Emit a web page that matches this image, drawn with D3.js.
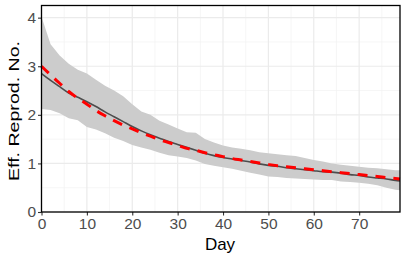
<!DOCTYPE html>
<html>
<head>
<meta charset="utf-8">
<script src="https://cdn.jsdelivr.net/npm/d3@7"></script>
<style>
  body { margin: 0; background: #fff; }
  text { font-family: "Liberation Sans", Arial, sans-serif; }
</style>
</head>
<body>
<div id="canvas"></div>
<script>
// values
const days  = [0, 2, 4, 6, 8, 10, 12, 14, 16, 18, 20, 22, 24, 26, 28, 30, 32, 34, 36, 38,
               40, 42, 44, 46, 48, 50, 52, 54, 56, 58, 60, 62, 64, 66, 68, 70, 72, 74, 76, 78, 79];
const upper = [4.02, 3.45, 3.22, 3.05, 2.93, 2.85, 2.72, 2.60, 2.50, 2.38, 2.22, 2.07, 2.00, 1.88, 1.80, 1.72, 1.64, 1.63, 1.50, 1.43,
               1.37, 1.33, 1.30, 1.27, 1.23, 1.21, 1.19, 1.17, 1.15, 1.11, 1.07, 1.04, 1.00, 0.97, 0.95, 0.93, 0.91, 0.90, 0.88, 0.86, 0.86];
const lower = [2.12, 2.10, 2.03, 1.93, 1.89, 1.75, 1.70, 1.62, 1.53, 1.46, 1.38, 1.33, 1.28, 1.22, 1.17, 1.14, 1.11, 1.06, 0.99, 0.95,
               0.92, 0.89, 0.85, 0.81, 0.77, 0.73, 0.72, 0.70, 0.69, 0.68, 0.67, 0.66, 0.66, 0.63, 0.62, 0.60, 0.58, 0.55, 0.50, 0.46, 0.45];
const estimate = [2.85, 2.71, 2.58, 2.45, 2.36, 2.27, 2.17, 2.06, 1.96, 1.86, 1.76, 1.67, 1.59, 1.52, 1.45, 1.39, 1.33, 1.27, 1.21, 1.16,
               1.12, 1.09, 1.06, 1.03, 0.99, 0.96, 0.94, 0.91, 0.89, 0.87, 0.85, 0.83, 0.82, 0.80, 0.77, 0.75, 0.72, 0.70, 0.68, 0.65, 0.64];
const truth = [3.00, 2.82, 2.65, 2.48, 2.34, 2.22, 2.09, 1.98, 1.88, 1.79, 1.71, 1.63, 1.56, 1.49, 1.43, 1.37, 1.31, 1.27, 1.22, 1.18,
               1.14, 1.10, 1.07, 1.04, 1.01, 0.98, 0.95, 0.93, 0.91, 0.89, 0.87, 0.85, 0.83, 0.81, 0.79, 0.77, 0.75, 0.73, 0.71, 0.69, 0.68];
const xTicks = [0, 10, 20, 30, 40, 50, 60, 70];
const yTicks = [0, 1, 2, 3, 4];

const W = 407, H = 260;
const margin = {top: 5.5, right: 7, bottom: 48, left: 41.5};
const width = W - margin.left - margin.right,
      height = H - margin.top - margin.bottom;

const svg = d3.select("#canvas").append("svg")
    .attr("width", W).attr("height", H);
const g = svg.append("g")
    .attr("transform", `translate(${margin.left},${margin.top})`);

const x = d3.scaleLinear().domain([0, 79]).range([0, width]);
const y = d3.scaleLinear().domain([0, 4.25]).range([height, 0]);

// grid, minor then major
const minorX = d3.range(5, 80, 10), minorY = d3.range(0.5, 4.25, 1);
g.selectAll(".gminx").data(minorX).join("line")
    .attr("x1", d => x(d)).attr("x2", d => x(d)).attr("y1", 0).attr("y2", height)
    .attr("stroke", "#f2f2f2").attr("stroke-width", 0.7);
g.selectAll(".gminy").data(minorY).join("line")
    .attr("y1", d => y(d)).attr("y2", d => y(d)).attr("x1", 0).attr("x2", width)
    .attr("stroke", "#f2f2f2").attr("stroke-width", 0.7);
g.selectAll(".gmajx").data(xTicks).join("line")
    .attr("x1", d => x(d)).attr("x2", d => x(d)).attr("y1", 0).attr("y2", height)
    .attr("stroke", "#ebebeb").attr("stroke-width", 1.2);
g.selectAll(".gmajy").data(yTicks).join("line")
    .attr("y1", d => y(d)).attr("y2", d => y(d)).attr("x1", 0).attr("x2", width)
    .attr("stroke", "#ebebeb").attr("stroke-width", 1.2);

const rows = days.map((d, i) => ({d, lo: lower[i], hi: upper[i], est: estimate[i], tr: truth[i]}));

// ribbon
g.append("path").datum(rows)
    .attr("d", d3.area().x(r => x(r.d)).y0(r => y(r.lo)).y1(r => y(r.hi)))
    .attr("fill", "#cccccc");

// estimate
g.append("path").datum(rows)
    .attr("d", d3.line().curve(d3.curveMonotoneX).x(r => x(r.d)).y(r => y(r.est)))
    .attr("fill", "none").attr("stroke", "#4d4d4d").attr("stroke-width", 1.6);

// true value, dashed red
g.append("path").datum(rows)
    .attr("d", d3.line().curve(d3.curveMonotoneX).x(r => x(r.d)).y(r => y(r.tr)))
    .attr("fill", "none").attr("stroke", "#ff0000").attr("stroke-width", 3)
    .attr("stroke-dasharray", "10,8");

// axes
const xAxis = g.append("g").attr("transform", `translate(0,${height})`)
    .call(d3.axisBottom(x).tickValues(xTicks).tickFormat(d3.format("d")).tickSize(3.5).tickPadding(2));
const yAxis = g.append("g")
    .call(d3.axisLeft(y).tickValues(yTicks).tickFormat(d3.format("d")).tickSize(3.5).tickPadding(2));
[xAxis, yAxis].forEach(a => {
    a.select(".domain").remove();
    a.selectAll(".tick line").attr("stroke", "#333").attr("stroke-width", 1.1);
    a.selectAll(".tick text").attr("fill", "#4d4d4d").style("font-size", "15.5px")
        .style("font-family", "'Liberation Sans', Arial, sans-serif");
});

// panel border
g.append("rect").attr("x", 0).attr("y", 0).attr("width", width).attr("height", height)
    .attr("fill", "none").attr("stroke", "#000").attr("stroke-width", 1.3);

// titles
svg.append("text").attr("x", 220).attr("y", 249.5)
    .attr("text-anchor", "middle").style("font-size", "17px").text("Day");
svg.append("text")
    .attr("transform", "translate(19,111) rotate(-90)")
    .attr("text-anchor", "middle").style("font-size", "15.5px")
    .attr("textLength", 140).attr("lengthAdjust", "spacingAndGlyphs")
    .text("Eff. Reprod. No.");
</script>
</body>
</html>
